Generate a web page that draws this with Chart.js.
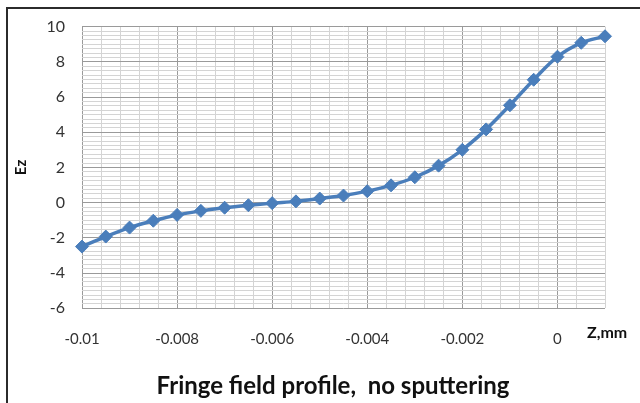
<!DOCTYPE html>
<html>
<head>
<meta charset="utf-8">
<script src="https://cdn.jsdelivr.net/npm/chart.js@4.4.1/dist/chart.umd.min.js"></script>
<style>
  html, body { margin: 0; padding: 0; background: #fff; }
</style>
</head>
<body>
<canvas id="mycanvas" width="640" height="403"></canvas>
<script>
// Z positions (mm) and field values
var zValues = [-0.01, -0.0095, -0.009, -0.0085, -0.008, -0.0075, -0.007, -0.0065,
               -0.006, -0.0055, -0.005, -0.0045, -0.004, -0.0035, -0.003, -0.0025,
               -0.002, -0.0015, -0.001, -0.0005, 0, 0.0005, 0.001];
var ezValues = [-2.5, -1.93, -1.42, -1.03, -0.70, -0.47, -0.29, -0.15,
                -0.03, 0.07, 0.23, 0.40, 0.65, 0.98, 1.44, 2.1,
                3.0, 4.16, 5.53, 6.98, 8.29, 9.08, 9.45];

var xLabelTicks = [-0.01, -0.008, -0.006, -0.004, -0.002, 0];
var yLabelTicks = [-6, -4, -2, 0, 2, 4, 6, 8, 10];

var chartTitle = "Fringe field profile,  no sputtering";
var xTitle = "Z,mm";
var yTitle = "Ez";

var points = [];
for (var i in zValues) {
    points.push({ x: zValues[i], y: ezValues[i] });
}

function isMajor(v, list) {
    for (var k in list) {
        if (Math.abs(v - list[k]) < 1e-9) return true;
    }
    return false;
}

var blue = "rgba(74, 126, 187, 1)";

// frame round the picture and the Z,mm label beside the tick labels
var extras = {
    id: 'extras',
    afterDraw: function(chart) {
        var ctx = chart.ctx;
        ctx.save();
        ctx.strokeStyle = "#2b2b2b";
        ctx.lineWidth = 2;
        ctx.beginPath();
        ctx.moveTo(7, 404);
        ctx.lineTo(7, 8);
        ctx.lineTo(641, 8);
        ctx.stroke();
        ctx.fillStyle = "#111";
        ctx.font = "bold 16px Lato";
        ctx.textAlign = "left";
        ctx.textBaseline = "alphabetic";
        ctx.fillText(xTitle, 587, 338);
        ctx.restore();
    }
};

var ctx = document.getElementById("mycanvas");

var chartdata = {
    datasets: [
        {
            label: "Ez",
            data: points,
            showLine: true,
            fill: false,
            tension: 0.3,
            borderColor: blue,
            backgroundColor: blue,
            borderWidth: 3.5,
            pointStyle: 'rectRot',
            pointRadius: 6.5,
            pointHoverRadius: 6.5,
            pointBorderWidth: 1,
            clip: false
        }
    ]
};

var LineGraph = new Chart(ctx, {
    type: 'scatter',
    data: chartdata,
    plugins: [extras],
    options: {
        responsive: false,
        animation: false,
        devicePixelRatio: 1,
        layout: { padding: { left: 26, right: 0, top: 24, bottom: 0 } },
        plugins: {
            legend: { display: false },
            tooltip: { enabled: false },
            title: {
                display: true,
                text: chartTitle,
                position: 'bottom',
                color: "#111",
                font: { family: "Lato", size: 24, weight: 'bold' },
                padding: { top: 3, bottom: 2 }
            }
        },
        scales: {
            x: {
                type: 'linear',
                min: -0.01,
                max: 0.001,
                afterFit: function(scale) { scale.height = 61; },
                border: { display: false },
                grid: {
                    drawTicks: false,
                    color: function(c) { return isMajor(c.tick.value, xLabelTicks) ? "#9a9a9a" : "#d4d4d4"; },
                    lineWidth: 1
                },
                ticks: {
                    stepSize: 0.0004,
                    autoSkip: false,
                    maxRotation: 0,
                    padding: 22,
                    color: "#333",
                    font: { family: "Lato", size: 15 },
                    callback: function(v) {
                        return isMajor(v, xLabelTicks) ? String(parseFloat(v.toFixed(4))) : "";
                    }
                }
            },
            y: {
                type: 'linear',
                min: -6,
                max: 10,
                afterFit: function(scale) { scale.width = 56; },
                border: { display: false },
                grid: {
                    drawTicks: false,
                    color: function(c) { return isMajor(c.tick.value, yLabelTicks) ? "#9a9a9a" : "#d4d4d4"; },
                    lineWidth: 1
                },
                ticks: {
                    stepSize: 0.25,
                    autoSkip: false,
                    padding: 17,
                    color: "#333",
                    font: { family: "Lato", size: 16 },
                    callback: function(v) {
                        return isMajor(v, yLabelTicks) ? String(v) : "";
                    }
                },
                title: {
                    display: true,
                    text: yTitle,
                    color: "#111",
                    font: { family: "Lato", size: 15, weight: 'bold' },
                    padding: { top: -14, bottom: 0 }
                }
            },
            // empty right-hand axis that only keeps the space right of the plot
            yRight: {
                type: 'linear',
                position: 'right',
                min: -6,
                max: 10,
                afterFit: function(scale) { scale.width = 35; },
                border: { display: false },
                grid: { display: false },
                ticks: { display: false }
            }
        }
    }
});
</script>
</body>
</html>
